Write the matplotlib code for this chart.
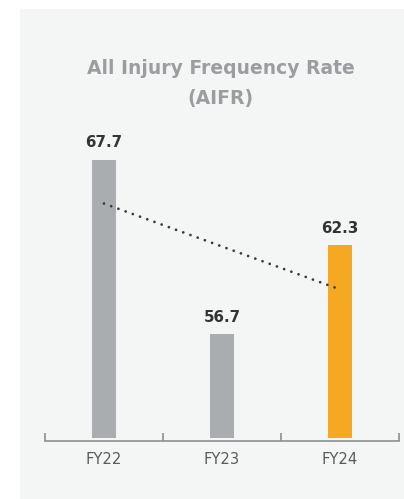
import matplotlib
matplotlib.use("Agg")
import matplotlib.pyplot as plt
import numpy as np
from matplotlib.patches import Rectangle

categories = ["FY22", "FY23", "FY24"]
values = [67.7, 56.7, 62.3]
value_labels = ["67.7", "56.7", "62.3"]
bar_colors = ["#a9adb0", "#a9adb0", "#f5a822"]
title_line1 = "All Injury Frequency Rate"
title_line2 = "(AIFR)"

W, H = 404, 499
fig = plt.figure(figsize=(W / 100, H / 100), dpi=100)
fig.patch.set_facecolor("white")

# light panel background
fig.patches.append(Rectangle((20 / W, 0), 1 - 20 / W, (H - 9) / H,
                             transform=fig.transFigure, facecolor="#f4f5f5",
                             edgecolor="none", zorder=-5))

ax_left, ax_right = 45 / W, 399 / W
ax_bottom, ax_top = (H - 441) / H, (H - 120) / H
ax = fig.add_axes([ax_left, ax_bottom, ax_right - ax_left, ax_top - ax_bottom])
ax.set_facecolor("none")
ax.set_zorder(2)

ymin = 50.0
px_per_unit = 15.9
ymax = ymin + 321 / px_per_unit
ax.set_ylim(ymin, ymax)
ax.set_xlim(-0.5, len(categories) - 0.5)

x = np.arange(len(categories))
gap = 3 / px_per_unit
ax.bar(x, np.array(values) - (ymin + gap), bottom=ymin + gap, width=0.205,
       color=bar_colors, zorder=2)

for xi, v, lab in zip(x, values, value_labels):
    ax.annotate(lab, (xi, v), xytext=(0, 9.2), textcoords="offset points",
                ha="center", va="baseline", fontsize=10.9, fontweight="bold",
                color="#333333", family="DejaVu Sans")

# trend line
coef = np.polyfit(x, values, 1)
trend = np.polyval(coef, x)
ax.plot([x[0], x[-1]], [trend[0], trend[-1]], color="#3a3a3a", lw=2.0,
        linestyle=(0, (0.01, 2.75)), dash_capstyle="round", zorder=3)

for s in ["top", "left", "right"]:
    ax.spines[s].set_visible(False)
ax.spines["bottom"].set_color("#8c8e90")
ax.spines["bottom"].set_linewidth(1.2)
ax.set_yticks([])
ax.set_xticks(x)
ax.set_xticklabels(categories, fontsize=10.6, color="#5a5a5a")
ax.tick_params(axis="x", which="major", length=0, pad=8)
ax.set_xticks(np.arange(-0.5, len(categories)), minor=True)
ax.tick_params(axis="x", which="minor", direction="in", length=6,
               width=1.2, color="#8c8e90")

fig.text(220.5 / W, (H - 74) / H, title_line1, ha="center", va="baseline",
         fontsize=13.5, fontweight="bold", color="#9b9ea1", family="DejaVu Sans")
fig.text(220.5 / W, (H - 104) / H, title_line2, ha="center", va="baseline",
         fontsize=13.5, fontweight="bold", color="#9b9ea1", family="DejaVu Sans")

fig.savefig("out.png", dpi=100)
